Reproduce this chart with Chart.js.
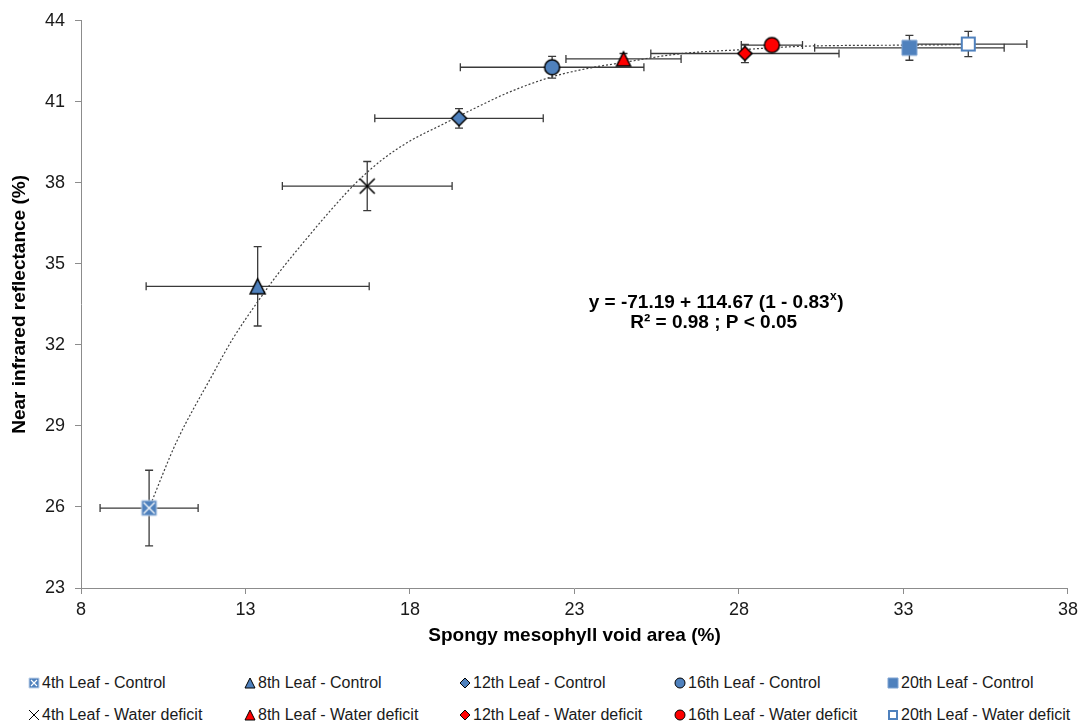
<!DOCTYPE html>
<html>
<head>
<meta charset="utf-8">
<script src="https://cdn.jsdelivr.net/npm/chart.js@4.4.1/dist/chart.umd.min.js"></script>
<style>
    body { margin: 0; background: #fff; font-family: "Liberation Sans", Arial, sans-serif; }
    #wrap { position: relative; width: 1083px; height: 724px; }
    #chartBox { position: absolute; left: 0; top: 0; width: 1083px; height: 655px; }
    .legendItem { position: absolute; display: flex; align-items: center; font-size: 16px; color: #1a1a1a; white-space: nowrap; }
    .legendItem canvas { margin-right: 1px; }
</style>
</head>
<body>
<div id="wrap">
    <div id="chartBox"><canvas id="nirChart"></canvas></div>
    <div id="legend"></div>
</div>
<script>
// Leaf positions (one marker per leaf and treatment)
const leaves = ['4th Leaf', '8th Leaf', '12th Leaf', '16th Leaf', '20th Leaf'];

// Control plants: mean void area (%) and NIR reflectance (%), with error bars
const controlX = [10.07, 13.37, 19.49, 22.32, 33.18];
const controlY = [25.96, 34.17, 40.39, 42.28, 43.00];
const controlErrX = [1.49, 3.39, 2.56, 2.79, 2.88];
const controlErrY = [1.40, 1.47, 0.36, 0.40, 0.46];

// Water deficit plants
const deficitX = [16.70, 24.49, 28.18, 29.00, 34.97];
const deficitY = [37.88, 42.59, 42.79, 43.10, 43.14];
const deficitErrX = [2.58, 1.75, 2.86, 0.93, 1.78];
const deficitErrY = [0.91, 0.20, 0.34, 0.20, 0.47];

// Fitted trend curve
const fitX = [10.07, 10.9, 12.0, 12.6, 13.4, 14.0, 14.8, 15.6, 16.4, 17.2, 18.0, 19.0, 20.0, 21.0, 22.3, 23.5, 24.5, 26.2, 28.2, 30.0, 33.2, 35.0];
const fitY = [25.96, 28.40, 30.90, 32.20, 33.65, 34.65, 35.85, 37.00, 38.05, 38.90, 39.55, 40.17, 40.78, 41.35, 41.92, 42.26, 42.46, 42.78, 42.94, 43.06, 43.10, 43.12];

// Axis ticks
const xTicks = [8, 13, 18, 23, 28, 33, 38];
const yTicks = [23, 26, 29, 32, 35, 38, 41, 44];

const BLUE = '#4f81bd';
const RED = '#ff0000';

// marker kinds per leaf
const controlMarkers = [['squareX', BLUE], ['triangle', BLUE], ['diamond', BLUE], ['circle', BLUE], ['square', BLUE]];
const deficitMarkers = [['cross', '#000'], ['triangle', RED], ['diamond', RED], ['circle', RED], ['squareOpen', BLUE]];

// Function to draw a marker into a small canvas (used as pointStyle and legend icon)
function makeMarker(kind, fill, size) {
    const pad = 2;
    const c = document.createElement('canvas');
    c.width = c.height = Math.ceil(size + pad * 2);
    const g = c.getContext('2d');
    const m = c.width / 2;
    const r = size / 2;
    g.lineWidth = size > 12 ? 1.5 : 1;
    g.strokeStyle = '#000';
    g.fillStyle = fill;
    g.beginPath();
    if (kind === 'circle') {
        g.arc(m, m, r, 0, Math.PI * 2);
        g.fill(); g.stroke();
    } else if (kind === 'triangle') {
        g.moveTo(m, m - r);
        g.lineTo(m + r, m + r);
        g.lineTo(m - r, m + r);
        g.closePath();
        g.fill(); g.stroke();
    } else if (kind === 'diamond') {
        g.moveTo(m, m - r);
        g.lineTo(m + r, m);
        g.lineTo(m, m + r);
        g.lineTo(m - r, m);
        g.closePath();
        g.fill(); g.stroke();
    } else if (kind === 'square') {
        g.rect(m - r, m - r, size, size);
        g.fill();
        g.strokeStyle = '#7ea3d2'; g.lineWidth = 1;
        g.stroke();
    } else if (kind === 'squareOpen') {
        g.fillStyle = '#fff';
        g.rect(m - r + 1, m - r + 1, size - 2, size - 2);
        g.fill();
        g.strokeStyle = fill; g.lineWidth = 2;
        g.stroke();
    } else if (kind === 'squareX') {
        g.rect(m - r, m - r, size, size);
        g.fill();
        g.strokeStyle = '#c3d4ea'; g.lineWidth = 1;
        g.stroke();
        g.beginPath();
        g.strokeStyle = '#fff'; g.lineWidth = 1.2;
        g.moveTo(m - r + 2, m - r + 2); g.lineTo(m + r - 2, m + r - 2);
        g.moveTo(m + r - 2, m - r + 2); g.lineTo(m - r + 2, m + r - 2);
        g.stroke();
    } else if (kind === 'cross') {
        g.strokeStyle = fill; g.lineWidth = size > 12 ? 1.6 : 1;
        g.moveTo(m - r, m - r); g.lineTo(m + r, m + r);
        g.moveTo(m + r, m - r); g.lineTo(m - r, m + r);
        g.stroke();
    }
    return c;
}

// Build the scatter datasets
const datasets = [];
function addGroup(xs, ys, ex, ey, markers, treatment) {
    xs.forEach((x, i) => {
        const [kind, fill] = markers[i];
        const size = kind === 'cross' ? 15 : (fill === RED && kind !== 'circle' ? 14 : 15);
        datasets.push({
            type: 'scatter',
            label: leaves[i] + ' - ' + treatment,
            data: [{ x: x, y: ys[i] }],
            errX: [ex[i]],
            errY: [ey[i]],
            pointStyle: makeMarker(kind, fill, size),
            pointRadius: 8,
            order: 1
        });
    });
}
addGroup(controlX, controlY, controlErrX, controlErrY, controlMarkers, 'Control');
addGroup(deficitX, deficitY, deficitErrX, deficitErrY, deficitMarkers, 'Water deficit');

datasets.push({
    type: 'line',
    label: 'fit',
    data: fitX.map((x, i) => ({ x: x, y: fitY[i] })),
    borderColor: '#404040',
    borderWidth: 1.2,
    borderDash: [2, 2],
    pointRadius: 0,
    cubicInterpolationMode: 'monotone',
    fill: false,
    order: 2
});

// Error bars drawn under the markers
const errorBars = {
    id: 'errorBars',
    beforeDatasetsDraw(chart) {
        const ctx = chart.ctx;
        const xs = chart.scales.x;
        const ys = chart.scales.y;
        const cap = 4;
        ctx.save();
        ctx.strokeStyle = '#3a3a3a';
        ctx.lineWidth = 1.3;
        chart.data.datasets.forEach(ds => {
            if (!ds.errX) return;
            ds.data.forEach((p, i) => {
                const px = xs.getPixelForValue(p.x);
                const py = ys.getPixelForValue(p.y);
                const x0 = xs.getPixelForValue(p.x - ds.errX[i]);
                const x1 = xs.getPixelForValue(p.x + ds.errX[i]);
                const y0 = ys.getPixelForValue(p.y - ds.errY[i]);
                const y1 = ys.getPixelForValue(p.y + ds.errY[i]);
                ctx.beginPath();
                ctx.moveTo(x0, py); ctx.lineTo(x1, py);
                ctx.moveTo(x0, py - cap); ctx.lineTo(x0, py + cap);
                ctx.moveTo(x1, py - cap); ctx.lineTo(x1, py + cap);
                ctx.moveTo(px, y0); ctx.lineTo(px, y1);
                ctx.moveTo(px - cap, y0); ctx.lineTo(px + cap, y0);
                ctx.moveTo(px - cap, y1); ctx.lineTo(px + cap, y1);
                ctx.stroke();
            });
        });
        ctx.restore();
    }
};

// Equation text in the middle of the plot
const equationText = {
    id: 'equationText',
    afterDraw(chart) {
        const ctx = chart.ctx;
        const a = chart.chartArea;
        const cx = a.left + (a.right - a.left) * 0.643;
        const cy = a.top + (a.bottom - a.top) * 0.497;
        ctx.save();
        ctx.fillStyle = '#000';
        ctx.textBaseline = 'middle';
        const big = 'bold 19px "Liberation Sans", Arial, sans-serif';
        const small = 'bold 12px "Liberation Sans", Arial, sans-serif';
        const part1 = 'y = -71.19 + 114.67 (1 - 0.83';
        const sup = 'x';
        const part2 = ')';
        ctx.font = big;
        const w1 = ctx.measureText(part1).width;
        const w3 = ctx.measureText(part2).width;
        ctx.font = small;
        const w2 = ctx.measureText(sup).width;
        let x = cx - (w1 + w2 + w3) / 2;
        ctx.textAlign = 'left';
        ctx.font = big;
        ctx.fillText(part1, x, cy);
        ctx.font = small;
        ctx.fillText(sup, x + w1 + 0.5, cy - 6);
        ctx.font = big;
        ctx.fillText(part2, x + w1 + w2 + 1, cy);
        ctx.textAlign = 'center';
        ctx.fillText('R\u00b2 = 0.98 ; P < 0.05', cx - 2, cy + 20);
        ctx.restore();
    }
};

const tickFont = { family: '"Liberation Sans", Arial, sans-serif', size: 18 };
const titleFont = { family: '"Liberation Sans", Arial, sans-serif', size: 19, weight: 'bold' };

new Chart(document.getElementById('nirChart'), {
    data: { datasets: datasets },
    options: {
        responsive: true,
        maintainAspectRatio: false,
        animation: false,
        layout: { padding: { top: 12, right: 13, left: 0, bottom: 0 } },
        plugins: {
            legend: { display: false },
            tooltip: { enabled: false }
        },
        scales: {
            x: {
                type: 'linear',
                min: 8,
                max: 38,
                afterBuildTicks: axis => { axis.ticks = xTicks.map(v => ({ value: v })); },
                afterFit: axis => { axis.height = 67; },
                ticks: { font: tickFont, color: '#1a1a1a', padding: 5 },
                grid: { drawOnChartArea: false, drawTicks: true, tickLength: 6, color: '#8c8c8c' },
                border: { color: '#8c8c8c', width: 1 },
                title: { display: true, text: 'Spongy mesophyll void area (%)', font: titleFont, color: '#000', padding: { top: 4, bottom: 8 } }
            },
            y: {
                type: 'linear',
                min: 23,
                max: 44,
                afterBuildTicks: axis => { axis.ticks = yTicks.map(v => ({ value: v })); },
                afterFit: axis => { axis.width = 81; },
                ticks: { font: tickFont, color: '#1a1a1a', padding: 10 },
                grid: { drawOnChartArea: false, drawTicks: true, tickLength: 6, color: '#8c8c8c' },
                border: { color: '#8c8c8c', width: 1 },
                title: { display: true, text: 'Near infrared reflectance (%)', font: titleFont, color: '#000', padding: { top: 8, bottom: 0 } }
            }
        }
    },
    plugins: [errorBars, equationText]
});

// HTML legend: two rows of five, aligned in columns
const legendCols = [27, 243, 458, 673, 886];
const legendRows = [683, 715];
const legendBox = document.getElementById('legend');
function addLegendRow(markers, treatment, row) {
    markers.forEach(([kind, fill], i) => {
        const item = document.createElement('div');
        item.className = 'legendItem';
        item.style.left = legendCols[i] + 'px';
        item.style.top = (legendRows[row] - 10) + 'px';
        item.style.height = '20px';
        item.appendChild(makeMarker(kind, fill, 10));
        const span = document.createElement('span');
        span.textContent = leaves[i] + ' - ' + treatment;
        item.appendChild(span);
        legendBox.appendChild(item);
    });
}
addLegendRow(controlMarkers, 'Control', 0);
addLegendRow(deficitMarkers, 'Water deficit', 1);
</script>
</body>
</html>
